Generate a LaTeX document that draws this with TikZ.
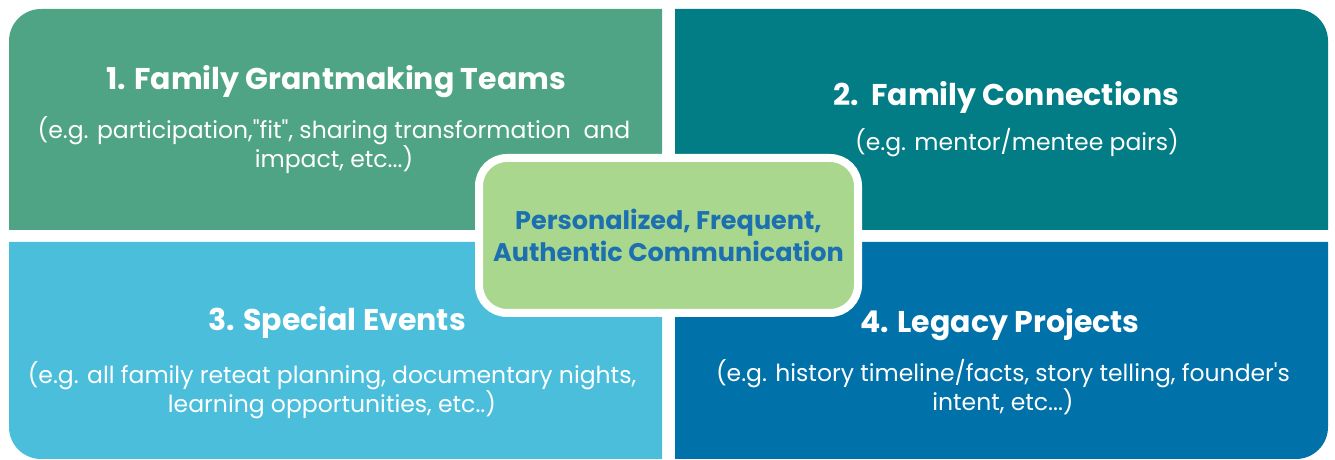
\documentclass[tikz,border=0pt]{standalone}
\usepackage{fontspec}
\setmainfont{Poppins}
\newfontfamily\qfont{Poppins}
\definecolor{qgreen}{HTML}{50A486}
\definecolor{qteal}{HTML}{027C85}
\definecolor{qsky}{HTML}{4BBEDB}
\definecolor{qblue}{HTML}{0171A9}
\definecolor{cgreen}{HTML}{A9D78E}
\definecolor{ctext}{HTML}{1C70B0}
\newcommand{\sq}{{\qfont\symbol{"27}}}
\newcommand{\dq}{{\qfont\symbol{"22}}}
\begin{document}
\begin{tikzpicture}[x=1pt,y=1pt,
  titletext/.style={text=white,font=\fontsize{30}{34}\selectfont\bfseries,inner sep=0pt},
  bodytext/.style={text=white,font=\fontsize{23.5}{29}\selectfont,align=center,inner sep=0pt},
  centerbox/.style={fill=cgreen,draw=white,line width=8pt,rounded corners=28pt,
    minimum width=379pt,minimum height=155pt,align=center,text=ctext,
    font=\fontsize{25.5}{32}\selectfont\bfseries}]
\useasboundingbox (0,0) rectangle (1335,460);
\def\r{32}
% quadrants
\fill[qgreen] (9,230) -- (9,451-\r) arc[start angle=180,end angle=90,radius=\r] -- (662,451) -- (662,230) -- cycle;
\fill[qteal] (675,230) -- (675,451) -- (1328-\r,451) arc[start angle=90,end angle=0,radius=\r] -- (1328,230) -- cycle;
\fill[qsky] (9,218) -- (9,1+\r) arc[start angle=180,end angle=270,radius=\r] -- (662,1) -- (662,218) -- cycle;
\fill[qblue] (675,218) -- (675,1) -- (1328-\r,1) arc[start angle=270,end angle=360,radius=\r] -- (1328,218) -- cycle;
% texts
\node[titletext] (t1) at (336,378) {1. Family Grantmaking Teams};
\node[bodytext] (b1) at (334,314.5) {(e.g. participation,\dq fit\dq, sharing transformation\ \ and\\impact, etc...)};
\node[titletext] (t2) at (1006,363) {2.\ \ Family Connections};
\node[bodytext] (b2) at (1017,317) {(e.g. mentor/mentee pairs)};
\node[titletext] (t3) at (337,138) {3. Special Events};
\node[bodytext] (b3) at (332,69.5) {(e.g. all family reteat planning, documentary nights,\\learning opportunities, etc..)};
\node[titletext] (t4) at (1000,135) {4. Legacy Projects};
\node[bodytext] (b4) at (1003,72.5) {(e.g. history timeline/facts, story telling, founder\sq s\\intent, etc...)};
% center
\node[centerbox] (c) at (668.5,224.5) {Personalized, Frequent,\\Authentic Communication};
\end{tikzpicture}
\end{document}
